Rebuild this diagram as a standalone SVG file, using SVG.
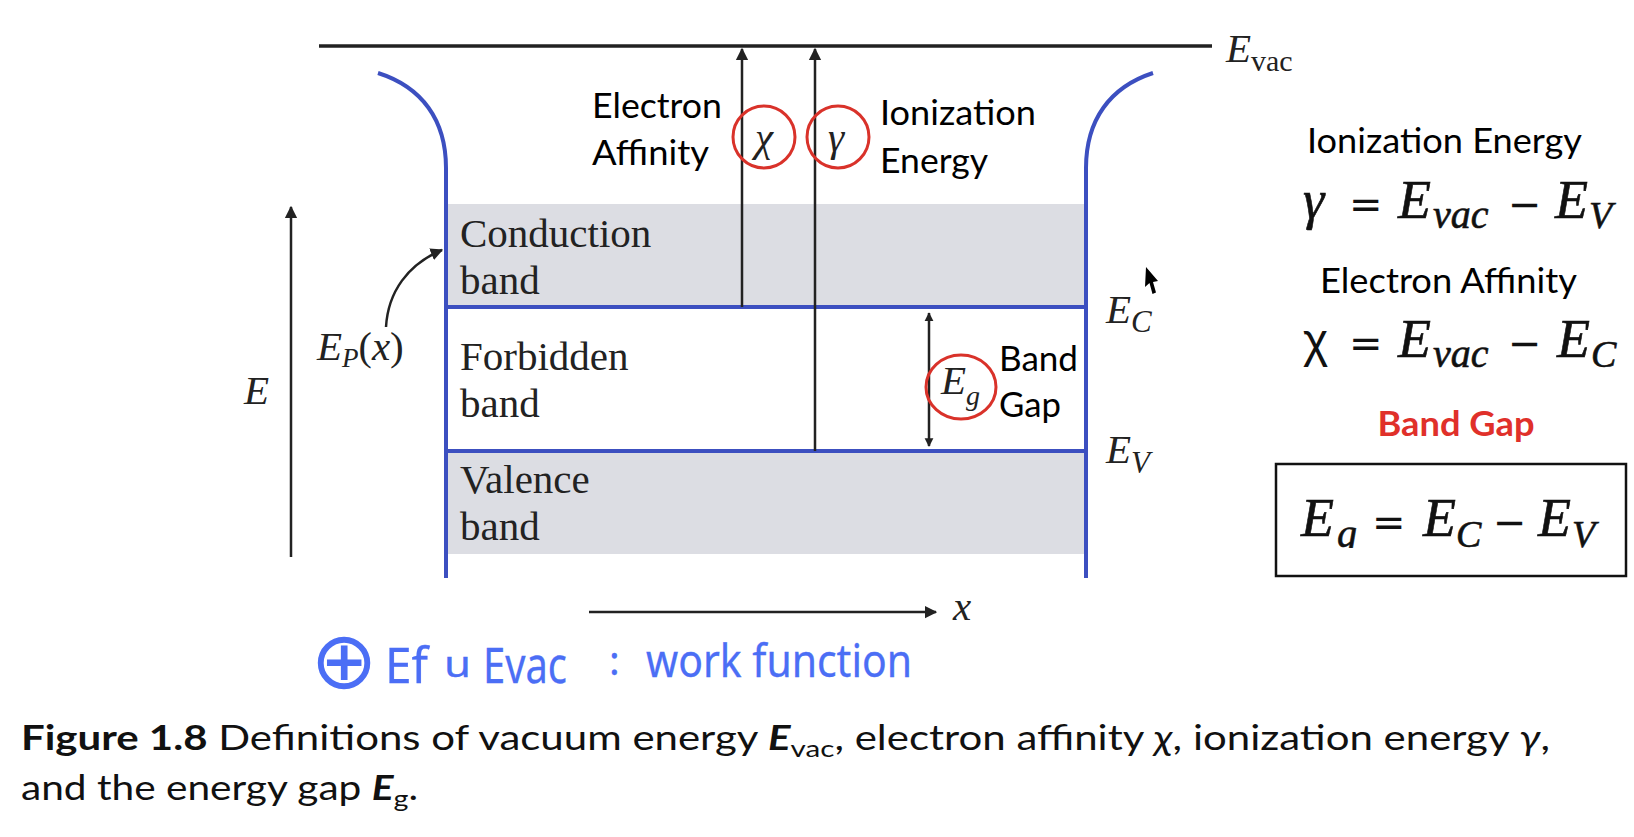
<svg xmlns="http://www.w3.org/2000/svg" width="1634" height="837" viewBox="0 0 1634 837">
<defs>
<style>
.blue{fill:none;stroke:#3c4fc0;stroke-width:4}
.blk{fill:none;stroke:#222;stroke-width:2.5}
.red{fill:none;stroke:#d9322a;stroke-width:3}
.band{fill:#dcdde3}
.cal{font-family:Lato,"Open Sans",sans-serif;font-size:35px;fill:#000}
.tim{font-family:"Liberation Serif","Times New Roman",serif;font-size:41px;fill:#222}
.it{font-style:italic}
.math{font-family:"Liberation Serif","Times New Roman",serif;font-style:italic;fill:#111;stroke:#111;stroke-width:0.6}
.op{font-family:"DejaVu Sans",sans-serif;font-size:40px;fill:#111}
.hand{font-family:"Noto Sans","DejaVu Sans",sans-serif;fill:#4b6ef5;stroke:#4b6ef5;stroke-width:0.3;font-weight:400}
</style>
<marker id="ah" viewBox="0 0 10 10" refX="9" refY="5" markerWidth="5" markerHeight="8" markerUnits="strokeWidth" orient="auto-start-reverse">
<path d="M0,0 L10,5 L0,10 z" fill="#222"/>
</marker>
<marker id="ahs" viewBox="0 0 10 10" refX="9" refY="5" markerWidth="3.5" markerHeight="5" markerUnits="strokeWidth" orient="auto-start-reverse">
<path d="M0,0 L10,5 L0,10 z" fill="#222"/>
</marker>
<clipPath id="gclip"><rect x="1330" y="470" width="40" height="78"/></clipPath>
</defs>
<rect width="1634" height="837" fill="#fff"/>

<g id="bands">
<rect class="band" x="448" y="204" width="636" height="102"/>
<rect class="band" x="448" y="452" width="636" height="102"/>
</g>

<g id="band-edges">
<path class="blue" d="M378,73 C422,87 446,120 446,168 L446,578"/>
<path class="blue" d="M1153,73 C1110,87 1086,120 1086,168 L1086,578"/>
<line class="blue" x1="446" y1="307" x2="1086" y2="307"/>
<line class="blue" x1="446" y1="451" x2="1086" y2="451"/>
</g>

<g id="evac">
<line x1="319" y1="46" x2="1212" y2="46" stroke="#222" stroke-width="3.5"/>
<text x="1226" y="62" class="tim it" font-size="42">E<tspan font-style="normal" font-size="30" dy="9">vac</tspan></text>
</g>

<g id="connectors">
<line class="blk" x1="742" y1="307" x2="742" y2="49" marker-end="url(#ah)"/>
<line class="blk" x1="815" y1="451" x2="815" y2="49" marker-end="url(#ah)"/>
<line class="blk" x1="291" y1="557" x2="291" y2="207" marker-end="url(#ah)"/>
<line class="blk" x1="589" y1="612" x2="936" y2="612" marker-end="url(#ah)"/>
<line class="blk" x1="929" y1="313" x2="929" y2="446" marker-start="url(#ahs)" marker-end="url(#ahs)"/>
<path class="blk" stroke-width="2" d="M386,327 C388,292 408,264 442,250" marker-end="url(#ah)"/>
</g>

<g id="band-labels">
<text class="tim" x="460" y="247">Conduction</text>
<text class="tim" x="460" y="294">band</text>
<text class="tim" x="460" y="370">Forbidden</text>
<text class="tim" x="460" y="417">band</text>
<text class="tim" x="460" y="493">Valence</text>
<text class="tim" x="460" y="540">band</text>
</g>

<g id="level-labels">
<text class="tim it" x="1106" y="323" font-size="44">E<tspan font-size="31" dy="9">C</tspan></text>
<text class="tim it" x="1106" y="463" font-size="44">E<tspan font-size="31" dy="10">V</tspan></text>
<text class="tim it" x="317" y="360" font-size="40">E<tspan font-size="27" dy="7">P</tspan><tspan font-style="normal" font-size="40" dy="-7">(</tspan>x<tspan font-style="normal">)</tspan></text>
<text class="tim it" x="244" y="404" font-size="44">E</text>
<text class="tim it" x="953" y="620" font-size="40">x</text>
</g>

<g id="chi-node">
<circle class="red" cx="764" cy="137" r="31"/>
<text class="tim it" x="764" y="151" font-size="44" text-anchor="middle" fill="#333">χ</text>
</g>
<g id="gamma-node">
<circle class="red" cx="838" cy="137" r="31"/>
<text class="tim it" x="836" y="151" font-size="44" text-anchor="middle" fill="#333">γ</text>
</g>
<g id="eg-node">
<ellipse class="red" cx="961" cy="387" rx="35" ry="32"/>
<text class="tim it" x="941" y="394" font-size="42" fill="#333">E<tspan font-size="28" dy="11">g</tspan></text>
</g>

<g id="annotations">
<text class="cal" x="592" y="118" textLength="130" lengthAdjust="spacingAndGlyphs">Electron</text>
<text class="cal" x="592" y="165" textLength="117" lengthAdjust="spacingAndGlyphs">Affinity</text>
<text class="cal" x="880" y="125" textLength="156" lengthAdjust="spacingAndGlyphs">Ionization</text>
<text class="cal" x="880" y="173" textLength="108" lengthAdjust="spacingAndGlyphs">Energy</text>
<text class="cal" x="999" y="371" textLength="79" lengthAdjust="spacingAndGlyphs">Band</text>
<text class="cal" x="999" y="417" textLength="62" lengthAdjust="spacingAndGlyphs">Gap</text>
</g>

<g id="cursor">
<polygon points="1146,267 1145,287 1149.5,283 1152.5,294 1156,292.5 1153,282 1158,281" fill="#000"/>
</g>

<g id="ionization-formula">
<text class="cal" x="1307" y="153" textLength="275" lengthAdjust="spacingAndGlyphs">Ionization Energy</text>
<text class="math" x="1303" y="218" font-size="54">γ</text>
<text class="op" x="1349" y="218">=</text>
<text class="math" x="1398" y="218" font-size="54">E</text>
<text class="math" x="1433" y="228" font-size="40">vac</text>
<text class="op" x="1508" y="218">−</text>
<text class="math" x="1555" y="218" font-size="54">E</text>
<text class="math" x="1589" y="228" font-size="38">V</text>
</g>

<g id="affinity-formula">
<text class="cal" x="1320" y="293" textLength="257" lengthAdjust="spacingAndGlyphs">Electron Affinity</text>
<text x="1303" y="357" font-family="Liberation Sans,Arial,sans-serif" font-size="48" fill="#111">χ</text>
<text class="op" x="1349" y="357">=</text>
<text class="math" x="1398" y="357" font-size="54">E</text>
<text class="math" x="1433" y="367" font-size="40">vac</text>
<text class="op" x="1508" y="357">−</text>
<text class="math" x="1557" y="357" font-size="54">E</text>
<text class="math" x="1591" y="367" font-size="38">C</text>
</g>

<g id="bandgap-formula">
<text class="cal" x="1456" y="436" text-anchor="middle" font-weight="bold" style="fill:#e0302a" textLength="157" lengthAdjust="spacingAndGlyphs">Band Gap</text>
<rect x="1276" y="464" width="350" height="112" fill="none" stroke="#111" stroke-width="2.5"/>
<text class="math" x="1301" y="536" font-size="54">E</text>
<text class="math" x="1337" y="547" font-size="40" clip-path="url(#gclip)">g</text>
<text class="op" x="1372" y="536">=</text>
<text class="math" x="1423" y="536" font-size="54">E</text>
<text class="math" x="1456" y="547" font-size="38">C</text>
<text class="op" x="1493" y="536">−</text>
<text class="math" x="1538" y="536" font-size="54">E</text>
<text class="math" x="1572" y="547" font-size="38">V</text>
</g>

<g id="handwriting">
<text x="344" y="688" font-family="'DejaVu Sans',sans-serif" font-size="80" text-anchor="middle" fill="#4b6ef5">⊕</text>
<text class="hand" x="385" y="683" font-size="50" textLength="43" lengthAdjust="spacingAndGlyphs">Ef</text>
<text class="hand" x="444" y="677" font-size="36" textLength="27" lengthAdjust="spacingAndGlyphs">u</text>
<text class="hand" x="483" y="683" font-size="50" textLength="84" lengthAdjust="spacingAndGlyphs">Evac</text>
<text class="hand" x="609" y="675" font-size="40">:</text>
<text class="hand" x="646" y="677" font-size="46" textLength="266" lengthAdjust="spacingAndGlyphs">work function</text>
</g>

<g id="caption">
<text x="21" y="750" font-family="Lato,'Open Sans',sans-serif" font-size="34" fill="#111" textLength="1529" lengthAdjust="spacingAndGlyphs"><tspan font-weight="bold">Figure 1.8</tspan> Definitions of vacuum energy <tspan font-weight="bold" font-style="italic">E</tspan><tspan font-size="24" dy="7">vac</tspan><tspan dy="-7">, electron affinity </tspan><tspan font-style="italic">χ</tspan>, ionization energy <tspan font-style="italic">γ</tspan>,</text>
<text x="21" y="800" font-family="Lato,'Open Sans',sans-serif" font-size="34" fill="#111" textLength="397" lengthAdjust="spacingAndGlyphs">and the energy gap <tspan font-weight="bold" font-style="italic">E</tspan><tspan font-size="24" dy="7">g</tspan><tspan dy="-7">.</tspan></text>
</g>
</svg>
